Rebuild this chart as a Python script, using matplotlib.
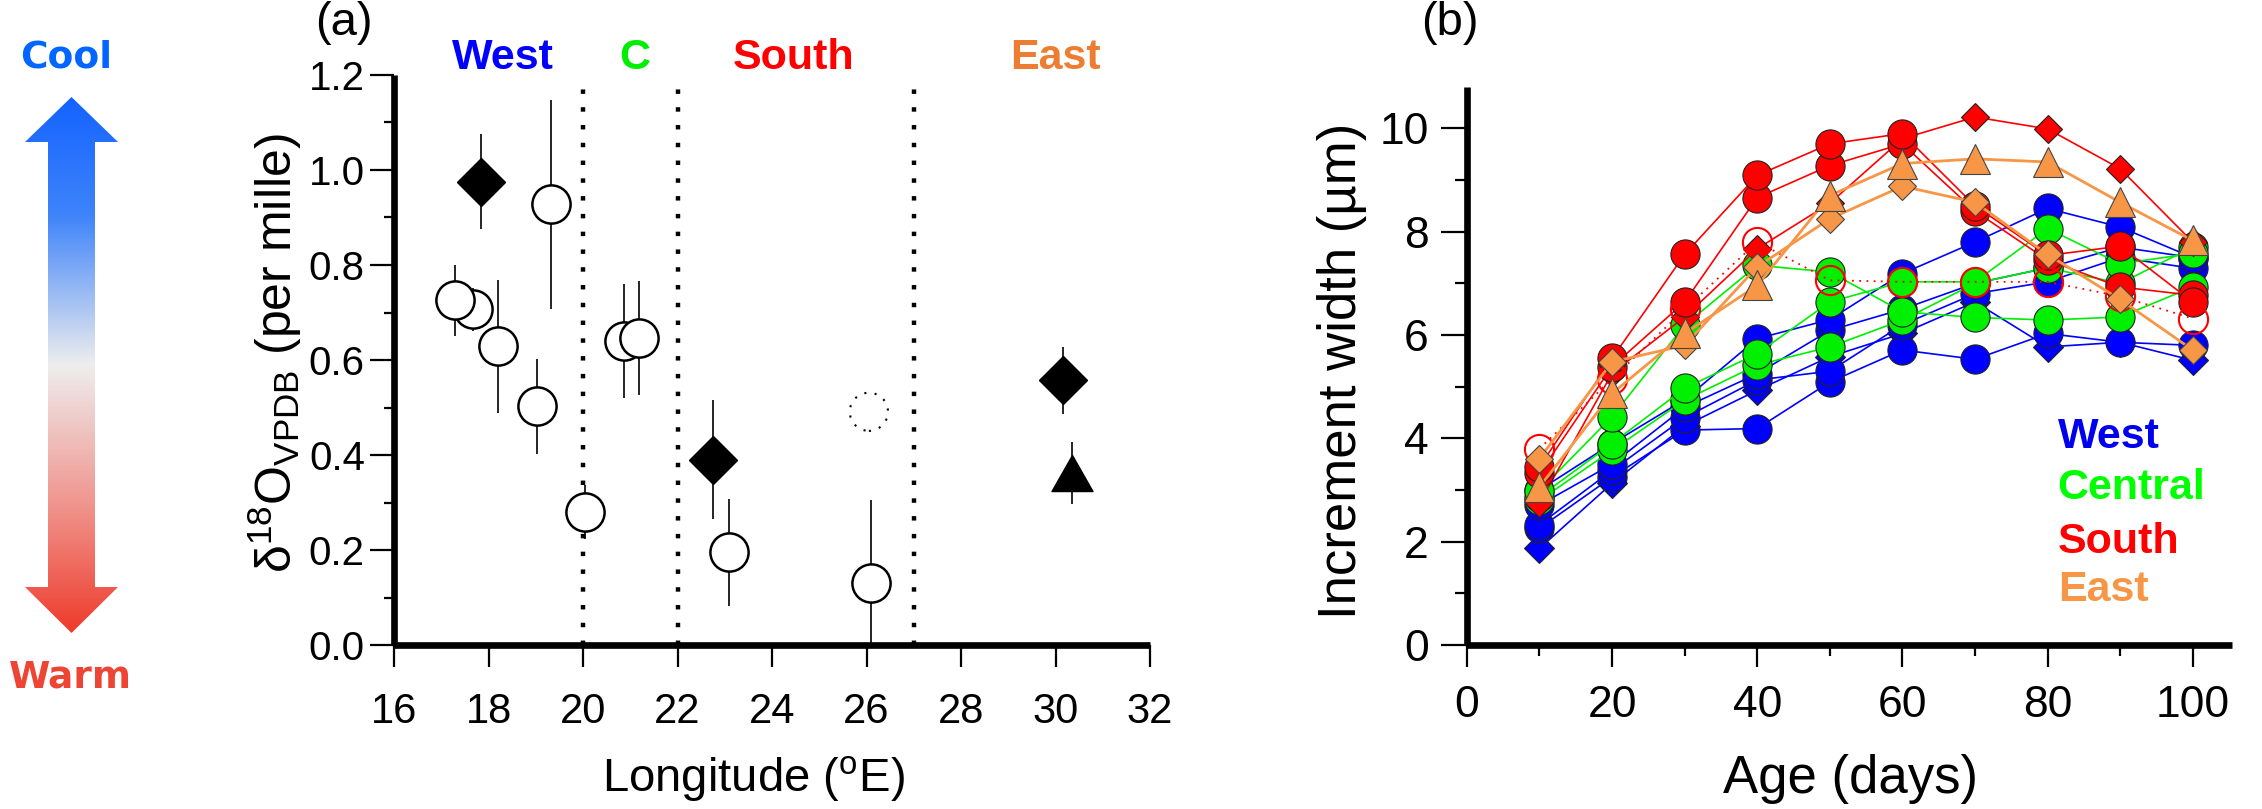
import numpy as np
import matplotlib.pyplot as plt
from matplotlib.colors import LinearSegmentedColormap
from matplotlib.patches import Polygon
from matplotlib.ticker import MultipleLocator, FormatStrFormatter

plt.rcParams['font.family'] = ['Liberation Sans', 'DejaVu Sans']
plt.rcParams['mathtext.fontset'] = 'custom'
plt.rcParams['mathtext.rm'] = 'Liberation Sans'
plt.rcParams['mathtext.it'] = 'Liberation Sans:italic'

# ---- panel (a): d18O against longitude ----
circle_lon = [17.67, 17.29, 18.20, 19.03, 19.33, 20.05, 20.86, 21.19, 23.08, 26.10]
circle_d18o = [0.707, 0.726, 0.629, 0.503, 0.928, 0.280, 0.641, 0.646, 0.195, 0.131]
circle_err = [0.045, 0.075, 0.140, 0.100, 0.220, 0.057, 0.120, 0.120, 0.113, 0.175]
diamond_lon = [17.83, 22.75, 30.16]
diamond_d18o = [0.975, 0.390, 0.557]
diamond_err = [0.100, 0.125, 0.070]
triangle_lon = [30.35]
triangle_d18o = [0.362]
triangle_err = [0.065]
dashed_lon = [26.05]
dashed_d18o = [0.491]
region_bounds = [20, 22, 27]
region_names = ['West', 'C', 'South', 'East']
region_lon = [18.30, 21.10, 24.45, 30.00]
region_colors = ['#0000FF', '#00EE00', '#FF0000', '#ED7D31']

# ---- panel (b): increment width against age ----
ages = [10, 20, 30, 40, 50, 60, 70, 80, 90, 100]
west_diamond = [1.87, 3.13, 4.24, 4.93, 5.58, 6.03, 6.64, 5.77, 5.86, 5.51]
west_circles = [
    [2.26, 3.25, 4.16, 4.19, 5.09, 5.71, 5.53, 6.03, 5.86, 5.80],
    [2.33, 3.38, 4.40, 5.13, 5.30, 6.20, 6.80, 7.03, 7.50, 7.29],
    [2.71, 3.50, 4.60, 5.25, 6.09, 6.50, 7.00, 7.30, 7.70, 7.50],
    [3.00, 3.90, 4.75, 5.93, 6.30, 7.19, 7.80, 8.45, 8.09, 7.50],
]
central_circles = [
    [2.80, 3.77, 4.74, 5.42, 5.77, 6.29, 7.00, 7.30, 7.00, 7.70],
    [2.87, 3.90, 4.97, 5.64, 6.64, 7.03, 7.03, 8.06, 7.38, 7.58],
    [2.99, 4.42, 6.19, 7.35, 7.22, 6.45, 6.34, 6.29, 6.35, 6.93],
]
south_diamond = [2.75, 5.26, 6.35, 7.67, 8.55, 9.80, 10.22, 9.99, 9.22, 7.80]
south_circles = [
    [3.32, 5.39, 6.64, 8.66, 9.28, 9.70, 8.40, 7.45, 6.93, 6.77],
    [3.45, 5.55, 7.56, 9.09, 9.70, 9.90, 8.50, 7.54, 7.72, 6.64],
]
south_open = [3.80, 5.15, 6.50, 7.80, 7.06, 7.03, 7.03, 7.03, 6.75, 6.32]
east_diamond = [3.61, 5.48, 5.80, 7.32, 8.25, 8.88, 8.57, 7.56, 6.69, 5.71]
east_triangle = [3.06, 4.87, 6.03, 6.96, 8.70, 9.32, 9.41, 9.35, 8.57, 7.83]

legend_names = ['West', 'Central', 'South', 'East']
legend_colors = ['#0000EE', '#00FF00', '#FF0000', '#F79646']
legend_y = [4.02, 3.04, 2.00, 1.06]

BLUE, GREEN, RED, ORANGE = '#0000FF', '#00F000', '#FF0000', '#F79646'

fig = plt.figure(figsize=(22.62, 8.09), dpi=100)

# cool / warm double arrow drawn in pixel space
ax0 = fig.add_axes([0, 0, 1, 1])
ax0.set_xlim(0, 2262)
ax0.set_ylim(809, 0)
ax0.axis('off')
arrow_xy = [(71.5, 97), (118, 142), (95, 142), (95, 587), (118, 587), (71.5, 633),
            (25, 587), (48, 587), (48, 142), (25, 142)]
arrow = Polygon(arrow_xy, closed=True, facecolor='none', edgecolor='none')
ax0.add_patch(arrow)
cool_warm = LinearSegmentedColormap.from_list(
    'coolwarm_arrow', [(0.0, '#1463FF'), (0.22, '#3F84FA'), (0.5, '#EEEEEE'),
                       (0.78, '#F08E86'), (1.0, '#EE3B2C')])
grad = np.linspace(0, 1, 256).reshape(-1, 1)
img = ax0.imshow(grad, cmap=cool_warm, aspect='auto', origin='upper',
                 extent=(25, 118, 633, 97), interpolation='bilinear')
img.set_clip_path(arrow)
ax0.text(66, 57, 'Cool', color='#0066FF', fontsize=27, fontweight='bold',
         family='DejaVu Sans', ha='center', va='center')
ax0.text(70, 678, 'Warm', color='#EE4433', fontsize=27, fontweight='bold',
         family='DejaVu Sans', ha='center', va='center')


def style_axes(ax):
    for side in ['top', 'right']:
        ax.spines[side].set_visible(False)
    for side in ['left', 'bottom']:
        ax.spines[side].set_linewidth(4.8)
        ax.spines[side].set_capstyle('butt')
    ax.tick_params(which='both', direction='out', width=1.6, colors='black')
    ax.set_facecolor('none')


# ---- panel (a) ----
ax1 = fig.add_axes([0.1742, 0.2027, 0.3342, 0.7046])
style_axes(ax1)
ax1.vlines(region_bounds, 0, 1.19, colors='black', linewidth=3.2,
           linestyles=(0, (1, 3)), zorder=1)
ax1.errorbar(circle_lon + diamond_lon + triangle_lon,
             circle_d18o + diamond_d18o + triangle_d18o,
             yerr=circle_err + diamond_err + triangle_err,
             fmt='none', ecolor='black', elinewidth=1.2, zorder=2)
ax1.plot(circle_lon, circle_d18o, 'o', ms=27.5, mfc='white', mec='black',
         mew=1.8, zorder=3)
ax1.plot(diamond_lon, diamond_d18o, 'D', ms=24, mfc='black', mec='black',
         zorder=3)
triangle_marker = [(0, 0.88), (1, -0.88), (-1, -0.88), (0, 0.88)]
ax1.plot(triangle_lon, triangle_d18o, ls='none', marker=triangle_marker, ms=29.5,
         mfc='black', mec='black', zorder=3)
ax1.scatter(dashed_lon, dashed_d18o, s=27.5 ** 2, facecolors='none',
            edgecolors='black', linewidths=1.5, linestyles=(0, (1, 4)), zorder=3)

ax1.set_xlim(16, 32)
ax1.set_ylim(0, 1.2)
ax1.set_xticks(range(16, 33, 2))
ax1.yaxis.set_major_locator(MultipleLocator(0.2))
ax1.yaxis.set_minor_locator(MultipleLocator(0.1))
ax1.yaxis.set_major_formatter(FormatStrFormatter('%.1f'))
ax1.tick_params(axis='x', which='major', length=16, pad=18, labelsize=30)
ax1.tick_params(axis='y', which='major', length=17, pad=4, labelsize=29)
ax1.tick_params(axis='y', which='minor', length=7.5)

for name, lon, color in zip(region_names, region_lon, region_colors):
    ax1.text(lon, 1.235, name, color=color, fontsize=31, fontweight='bold',
             ha='center', va='center', clip_on=False)

ax1.text(0.475, -0.235, r'Longitude ($^{\rm o}$E)', transform=ax1.transAxes,
         fontsize=34, ha='center', va='center')
ax1.text(-0.158, 0.512, r'δ$^{18}$O$_{\rm VPDB}$ (per mille)',
         transform=ax1.transAxes, fontsize=36, rotation=90,
         ha='center', va='center')
fig.text(0.152, 0.971, '(a)', fontsize=34, ha='center', va='center')

# ---- panel (b) ----
ax2 = fig.add_axes([0.6485, 0.2027, 0.3382, 0.6897])
style_axes(ax2)
line_kw = dict(lw=1.2, mec='#222222', mew=0.8)

ax2.plot(ages, west_diamond, color=BLUE, marker='D', ms=15, mfc=BLUE, **line_kw)
for vals in west_circles:
    ax2.plot(ages, vals, color=BLUE, marker='o', ms=21, mfc=BLUE, **line_kw)
for vals in central_circles:
    ax2.plot(ages, vals, color=GREEN, marker='o', ms=21, mfc=GREEN, **line_kw)
ax2.plot(ages, south_diamond, color=RED, marker='D', ms=14.5, mfc=RED, **line_kw)
for vals in south_circles:
    ax2.plot(ages, vals, color=RED, marker='o', ms=21, mfc=RED, **line_kw)
ax2.plot(ages, south_open, color=RED, ls=(0, (1, 3)), lw=1.3, marker='o', ms=21,
         mfc='none', mec=RED, mew=1.5)
ax2.plot(ages, east_diamond, color=ORANGE, lw=2.0, marker='D', ms=14.5,
         mfc=ORANGE, mec='#444444', mew=0.8)
ax2.plot(ages, east_triangle, color=ORANGE, lw=2.0, marker='^', ms=22,
         mfc=ORANGE, mec='#444444', mew=0.8)

for name, color, y in zip(legend_names, legend_colors, legend_y):
    ax2.text(81.4, y, name, color=color, fontsize=31, fontweight='bold',
             ha='left', va='center')

ax2.set_xlim(0, 105.4)
ax2.set_ylim(0, 10.8)
ax2.xaxis.set_major_locator(MultipleLocator(20))
ax2.xaxis.set_minor_locator(MultipleLocator(10))
ax2.yaxis.set_major_locator(MultipleLocator(2))
ax2.yaxis.set_minor_locator(MultipleLocator(1))
ax2.tick_params(axis='x', which='major', length=16, pad=13, labelsize=32)
ax2.tick_params(axis='x', which='minor', length=8)
ax2.tick_params(axis='y', which='major', length=18.5, pad=9, labelsize=32)
ax2.tick_params(axis='y', which='minor', length=9)

ax2.text(0.502, -0.24, 'Age (days)', transform=ax2.transAxes, fontsize=38,
         ha='center', va='center')
ax2.text(-0.163, 0.491, 'Increment width (µm)', transform=ax2.transAxes,
         fontsize=38, rotation=90, ha='center', va='center')
fig.text(0.641, 0.971, '(b)', fontsize=34, ha='center', va='center')

fig.savefig('out.png', dpi=100)
